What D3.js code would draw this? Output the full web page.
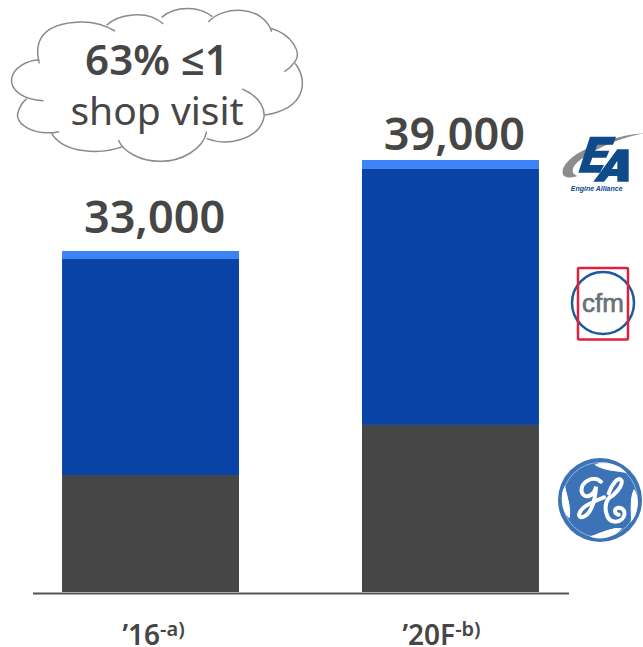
<!DOCTYPE html>
<html>
<head>
<meta charset="utf-8">
<script src="https://cdn.jsdelivr.net/npm/d3@7"></script>
<style>
    html, body { margin: 0; background: #fff; overflow: hidden; }
    text { font-family: "Noto Sans", "Open Sans", sans-serif; fill: #464646; }
</style>
</head>
<body>
<div id="graph"></div>
<script>
"use strict";
(function() {
    const svgSize = { width: 643, height: 647 };

    // bar heights as drawn: the picture is not to scale with its labels,
    // so the 2016 stack comes out shorter than its 33,000 label
    const categories = ["’16", "’20F"];
    const footnotes = ["-a)", "-b)"];
    const totals = ["33,000", "39,000"];
    const geValues = [10560, 15080];
    const cfmValues = [19500, 23110];
    const eaValues = [725, 810];
    const seriesKeys = ["ge", "cfm", "ea"];
    const cloudLines = ["63% ≤1", "shop visit"];

    const colors = { ge: "#464646", cfm: "#0a43a6", ea: "#3d83f5" };
    const baseY = 592;
    const topY = 160;
    const totalNudge = [{ dx: 4, dy: -18 }, { dx: 4, dy: -10 }];
    const labelNudge = [3, -9];

    const svg = d3.select("#graph").append("svg")
        .attr("width", svgSize.width)
        .attr("height", svgSize.height);

    const rows = categories.map((c, i) => ({
        category: c, ge: geValues[i], cfm: cfmValues[i], ea: eaValues[i]
    }));

    const xScale = d3.scaleBand()
        .domain(categories)
        .range([32.5, 568.5])
        .paddingInner(0.41)
        .paddingOuter(0.0985);
    const yScale = d3.scaleLinear()
        .domain([0, 39000])
        .range([baseY, topY]);

    drawBars();
    drawAxis();
    drawTotals();
    drawCloud();
    drawEngineAlliance();
    drawCfm();
    drawGe();

    function drawBars() {
        const stacked = d3.stack().keys(seriesKeys)(rows);
        svg.append("g").selectAll("g")
            .data(stacked)
            .enter().append("g")
                .attr("fill", (d) => colors[d.key])
            .selectAll("rect")
            .data((d) => d)
            .enter().append("rect")
                .attr("x", (d) => xScale(d.data.category))
                .attr("width", xScale.bandwidth())
                .attr("y", (d) => yScale(d[1]))
                .attr("height", (d) => yScale(d[0]) - yScale(d[1]));
    }

    function drawAxis() {
        const axis = svg.append("g")
            .attr("transform", "translate(0," + (baseY + 1) + ")")
            .call(d3.axisBottom(xScale).tickSize(0).tickSizeOuter(0));
        axis.select(".domain").attr("stroke", "#555").attr("stroke-width", 2);
        axis.selectAll(".tick text")
            .attr("y", 52)
            .attr("dy", 0)
            .attr("font-size", 28)
            .attr("font-weight", 600)
            .attr("font-family", null)
            .text(null)
            .each(function(d, i) {
                const label = d3.select(this);
                label.attr("x", labelNudge[i]);
                label.append("tspan").text(categories[i]);
                label.append("tspan")
                    .attr("font-size", 20)
                    .attr("dy", -9)
                    .text(footnotes[i]);
            });
    }

    function drawTotals() {
        svg.append("g").selectAll("text")
            .data(rows)
            .enter().append("text")
                .attr("x", (d, i) => xScale(d.category) + xScale.bandwidth() / 2 + totalNudge[i].dx)
                .attr("y", (d, i) => yScale(d.ge + d.cfm + d.ea) + totalNudge[i].dy)
                .attr("text-anchor", "middle")
                .attr("font-size", 45)
                .attr("font-weight", 600)
                .text((d, i) => totals[i]);
    }

    function drawCloud() {
        const lobes = [
            "M118,190 C100,120 130,70 240,66 C285,65 320,78 345,93",
            "M320,76 C350,45 440,25 490,72",
            "M485,52 C530,15 600,20 637,50",
            "M625,66 C670,15 790,15 815,95",
            "M812,85 C880,105 905,160 885,185 C875,200 865,208 853,215",
            "M885,190 C925,240 920,325 795,345",
            "M727,267 C780,290 800,330 790,360 C770,420 680,440 620,415",
            "M620,395 C610,450 540,485 480,484 C420,484 370,455 355,420",
            "M368,440 C300,465 190,460 155,400",
            "M177,395 C100,410 40,370 55,335 C60,315 70,305 80,296",
            "M130,302 C70,300 30,270 35,235 C40,205 80,180 118,180"
        ];
        svg.append("g")
            .attr("transform", "scale(0.3333)")
            .selectAll("path")
            .data(lobes)
            .enter().append("path")
                .attr("d", (d) => d)
                .attr("fill", "none")
                .attr("stroke", "#8a8a8a")
                .attr("stroke-width", 4.5);

        svg.append("text")
            .attr("x", 157).attr("y", 75)
            .attr("text-anchor", "middle")
            .attr("font-size", 42).attr("font-weight", 600)
            .text(cloudLines[0]);
        svg.append("text")
            .attr("x", 157).attr("y", 125)
            .attr("text-anchor", "middle")
            .attr("font-size", 39)
            .text(cloudLines[1]);
    }

    function drawEngineAlliance() {
        const g = svg.append("g").attr("transform", "translate(540,120) scale(0.3333)");
        g.append("path")
            .attr("d", "M112,168 C60,185 55,150 90,118 C140,75 240,45 310,40 C250,50 165,85 120,120 C95,140 90,160 112,168 Z")
            .attr("fill", "#8c8c8c");
        g.append("path")
            .attr("d", "M150,50 L228,50 L219,74 L172,74 L165,92 L208,92 L199,113 L157,113 L149,135 L192,135 L180,158 L115,158 Z")
            .attr("fill", "#0f4a8a");
        g.append("path")
            .attr("d", "M232,88 L266,88 L266,185 L232,185 L232,168 L206,168 L192,185 L160,185 Z M232,122 L216,147 L232,147 Z")
            .attr("fill", "#0f4a8a")
            .attr("fill-rule", "evenodd");
        g.append("text")
            .attr("x", 170).attr("y", 212)
            .attr("text-anchor", "middle")
            .attr("font-size", 21).attr("font-weight", 700).attr("font-style", "italic")
            .style("font-family", "'Liberation Sans', sans-serif")
            .style("fill", "#0f4a8a")
            .text("Engine Alliance");
    }

    function drawCfm() {
        svg.append("circle")
            .attr("cx", 603).attr("cy", 303).attr("r", 31)
            .attr("fill", "#fff").attr("stroke", "#1b5a9c").attr("stroke-width", 2.5);
        svg.append("rect")
            .attr("x", 578).attr("y", 268).attr("width", 50).attr("height", 71.5).attr("rx", 1)
            .attr("fill", "none").attr("stroke", "#e0203f").attr("stroke-width", 2.5);
        svg.append("text")
            .attr("x", 603).attr("y", 312)
            .attr("text-anchor", "middle")
            .attr("font-size", 26)
            .attr("stroke", "#6b7278")
            .attr("stroke-width", 0.7)
            .style("font-family", "'Liberation Sans', sans-serif")
            .style("fill", "#6b7278")
            .text("cfm");
    }

    function drawGe() {
        const g = svg.append("g").attr("transform", "translate(600,500)");
        g.append("circle").attr("r", 42).attr("fill", "#3c72b6");
        g.append("circle").attr("r", 37.5).attr("fill", "none")
            .attr("stroke", "#a9c4e4").attr("stroke-width", 0.8);
        // swirl marks around the ring
        [14, 95, 165, -98].forEach((a) => {
            g.append("path")
                .attr("transform", "rotate(" + a + ")")
                .attr("d", "M-13,-33 C-6,-39 10,-39 18,-33 C10,-33 -3,-29 -13,-33 Z")
                .attr("fill", "#fff")
                .attr("stroke", "#fff")
                .attr("stroke-width", 1);
        });
        const mono = g.append("g").attr("transform", "scale(0.3333) translate(-180,-180)")
            .attr("fill", "none").attr("stroke", "#fff").attr("stroke-width", 12).attr("stroke-linecap", "round");
        mono.append("path")
            .attr("d", "M183,125 C160,105 120,125 125,155 C130,178 162,172 168,140 C165,190 150,228 125,232 C110,232 118,208 142,195 C160,185 178,178 192,172");
        mono.append("path")
            .attr("d", "M206,160 C215,135 235,105 245,122 C248,140 220,168 206,175 C190,195 195,245 226,245 C258,245 262,205 238,203 C222,202 220,222 236,224");
    }
})();
</script>
</body>
</html>
